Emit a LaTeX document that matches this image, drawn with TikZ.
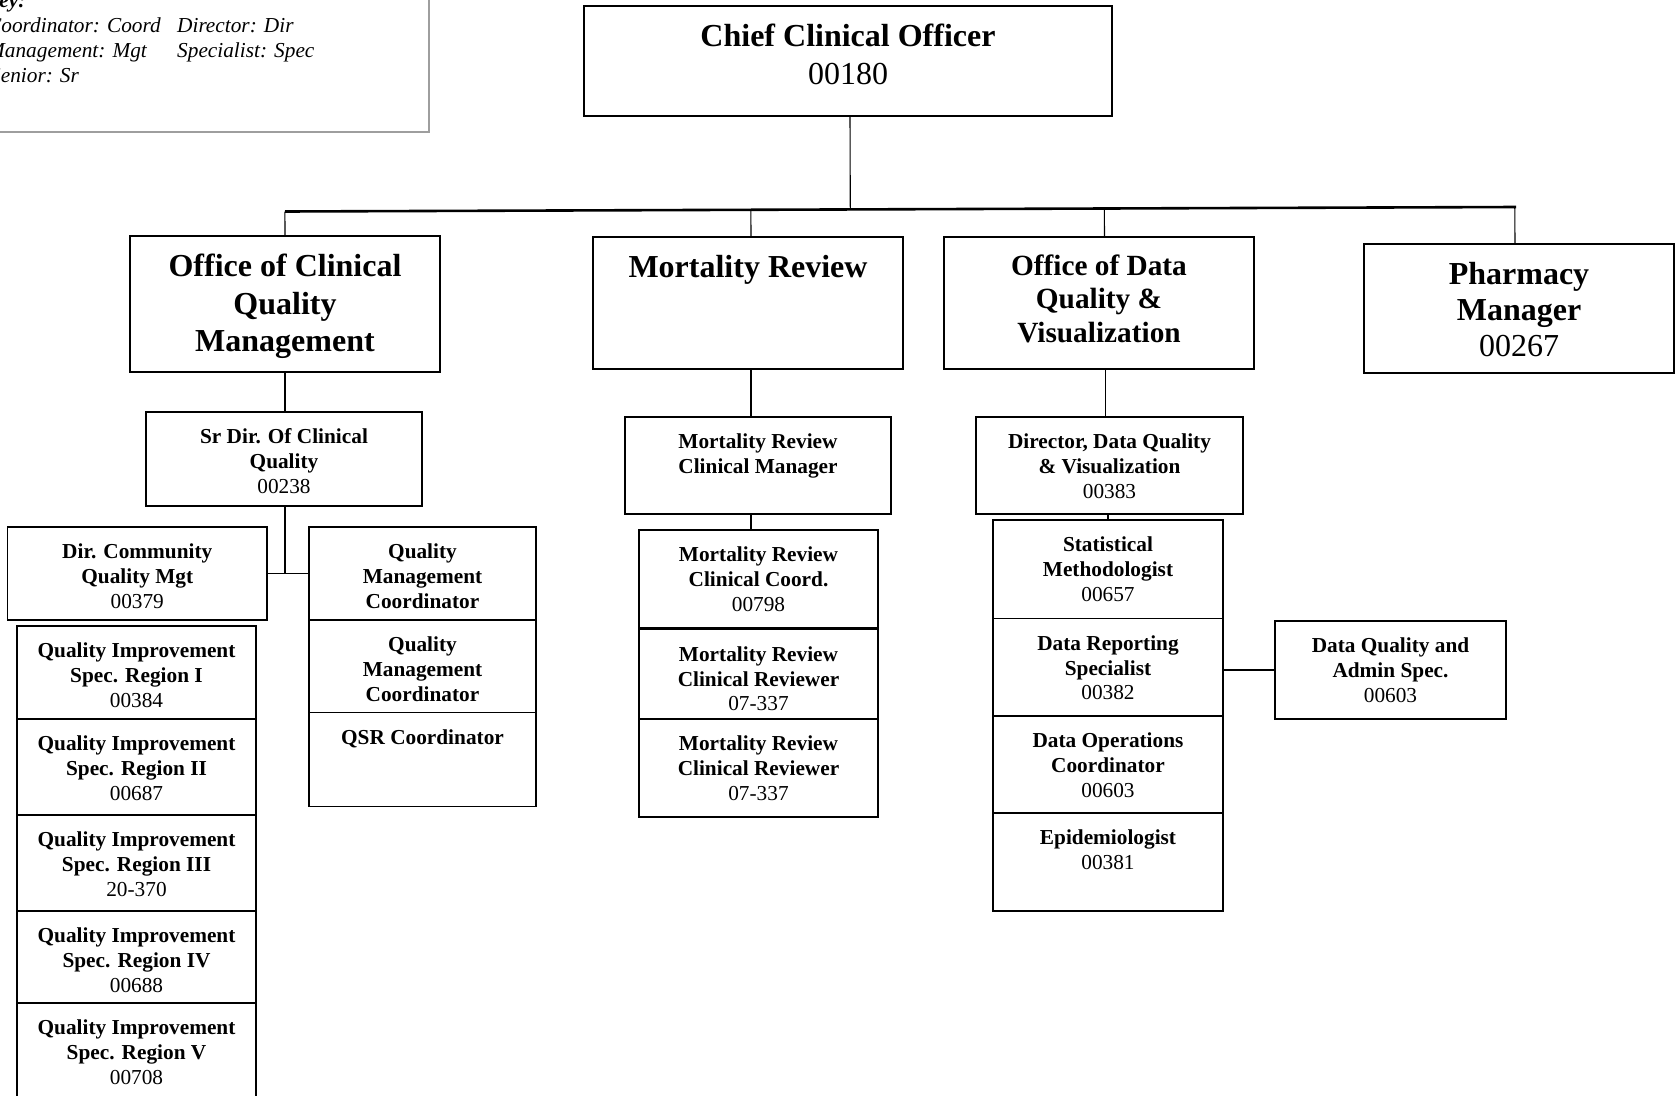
\documentclass[tikz,border=0pt]{standalone}
\usepackage{fontspec}
\setmainfont{Liberation Serif}
\usetikzlibrary{calc}
\newcommand\nm[1]{{\mdseries #1}}
\newcommand\obox[8][]{%
  \pgfmathsetmacro\oboxW{#5-#3}%
  \pgfmathsetmacro\oboxH{#6-#4}%
  \pgfmathsetmacro\oboxX{(#3+#5)/2}%
  \pgfmathsetmacro\oboxY{(#4+#6)/2}%
  \node[box,#1,minimum width=\oboxW pt,minimum height=\oboxH pt] (#2) at (\oboxX,\oboxY) {};
  \node[#7,anchor=north] (#2-t) at ([yshift=-14.5pt]#2.north) {\strut #8};
}
\tikzset{
  box/.style={draw, rectangle, line width=1.8pt, inner sep=0pt, outer sep=0pt},
  bigbox/.style={line width=2.1pt},
  sm/.style={inner sep=0pt, align=center, font=\fontsize{21.3}{24.6}\selectfont\bfseries},
  lg/.style={inner sep=0pt, align=center, font=\fontsize{32}{37.4}\selectfont\bfseries},
  ph/.style={inner sep=0pt, align=center, font=\fontsize{32}{36.3}\selectfont\bfseries},
  md/.style={inner sep=0pt, align=center, font=\fontsize{29.3}{33.6}\selectfont\bfseries},
  conn/.style={line width=1.1pt},
  mainline/.style={line width=2.6pt},
  keybox/.style={draw=black!38, line width=2.4pt, rectangle, inner sep=0pt, fill=white},
  keytxt/.style={inner sep=0pt, font=\fontsize{21.3}{24.6}\selectfont\itshape},
}
\begin{document}
\begin{tikzpicture}[x=1pt,y=-1pt]
\path[use as bounding box, clip] (0,0) rectangle (1675,1095);
\fill[white] (0,0) rectangle (1675,1095);

% key
\node[keybox, minimum width=449pt, minimum height=152pt] (key) at (204.5,56) {};
\node[keytxt, anchor=base west] (k0) at (-15,7.5) {\bfseries Key:};
\node[keytxt, anchor=base west] (k1) at (-13,32.2) {Coordinator: Coord};
\node[keytxt, anchor=base west] (k2) at (-13,57.8) {Management: Mgt};
\node[keytxt, anchor=base west] (k3) at (-10,82.4) {Senior: Sr};
\node[keytxt, anchor=base west] (k4) at (177,32.2) {Director: Dir};
\node[keytxt, anchor=base west] (k5) at (177,57.8) {Specialist: Spec};

% top
\obox[line width=2.5pt]{chief}{584}{6}{1112}{116}{lg}{Chief Clinical Officer\\\nm{00180}}

% level 1
\obox[bigbox]{ocqm}{130}{236}{440}{372}{lg}{Office of Clinical\\Quality\\Management}
\obox[bigbox]{mr}{593}{237}{903}{369}{lg}{Mortality Review}
\obox[bigbox]{odqv}{944}{237}{1254}{369}{md}{Office of Data\\Quality \&\\Visualization}
\obox[bigbox]{pharm}{1364}{244}{1674}{373}{ph}{Pharmacy\\Manager\\\nm{00267}}

% clinical quality column
\obox{srdir}{146}{412}{422}{506}{sm}{Sr Dir. Of Clinical\\Quality\\\nm{00238}}
\obox{dircomm}{7.5}{527}{267}{620}{sm}{Dir. Community\\Quality Mgt\\\nm{00379}}
\obox{qmc1}{309}{527}{536}{620}{sm}{Quality\\Management\\Coordinator}
\obox{qmc2}{309}{620}{536}{712.5}{sm}{Quality\\Management\\Coordinator}
\obox{qsr}{309}{712.5}{536}{806.5}{sm}{QSR Coordinator}
\obox{qi1}{17}{626}{256}{719}{sm}{Quality Improvement\\Spec. Region I\\\nm{00384}}
\obox{qi2}{17}{719}{256}{815}{sm}{Quality Improvement\\Spec. Region II\\\nm{00687}}
\obox{qi3}{17}{815}{256}{911}{sm}{Quality Improvement\\Spec. Region III\\\nm{20-370}}
\obox{qi4}{17}{911}{256}{1003}{sm}{Quality Improvement\\Spec. Region IV\\\nm{00688}}
\obox{qi5}{17}{1003}{256}{1098}{sm}{Quality Improvement\\Spec. Region V\\\nm{00708}}

% mortality column
\obox{mrcm}{625}{417}{891}{514}{sm}{Mortality Review\\Clinical Manager}
\obox{mr1}{639}{530}{878}{628}{sm}{Mortality Review\\Clinical Coord.\\\nm{00798}}
\obox{mr2}{639}{629.5}{878}{719}{sm}{Mortality Review\\Clinical Reviewer\\\nm{07-337}}
\obox{mr3}{639}{719}{878}{817}{sm}{Mortality Review\\Clinical Reviewer\\\nm{07-337}}

% data column
\obox{ddqv}{976}{417}{1243}{514}{sm}{Director, Data Quality\\\& Visualization\\\nm{00383}}
\obox{stat}{993}{520}{1223}{618.5}{sm}{Statistical\\Methodologist\\\nm{00657}}
\obox{drs}{993}{618.5}{1223}{716}{sm}{Data Reporting\\Specialist\\\nm{00382}}
\obox{doc}{993}{716}{1223}{813}{sm}{Data Operations\\Coordinator\\\nm{00603}}
\obox{epi}{993}{813}{1223}{911}{sm}{Epidemiologist\\\nm{00381}}
\obox{dqas}{1275}{621}{1506}{719}{sm}{Data Quality and\\Admin Spec.\\\nm{00603}}

% main horizontal line
\coordinate (hl) at (285,211.5);
\coordinate (hr) at (1516,207);
\draw[mainline] (hl) -- (hr);

\coordinate (cs) at ([xshift=2pt]chief.south);
\draw[conn] (cs) -- ($(hl)!(cs)!(hr)$);
\coordinate (d1) at (ocqm.north);
\coordinate (d2) at ([xshift=3pt]mr.north);
\coordinate (d3) at ([xshift=5.5pt]odqv.north);
\coordinate (d4) at ([xshift=-4pt]pharm.north);
\draw[conn] (d1) -- ($(hl)!(d1)!(hr)$);
\draw[conn] (d2) -- ($(hl)!(d2)!(hr)$);
\draw[conn] (d3) -- ($(hl)!(d3)!(hr)$);
\draw[conn] (d4) -- ($(hl)!(d4)!(hr)$);

% clinical quality connectors
\draw[conn] (ocqm.south) -- (ocqm.south |- srdir.north);
\draw[conn] (ocqm.south |- srdir.south) -- (ocqm.south |- dircomm.east);
\draw[conn] (dircomm.east) -- (qmc1.west);

% mortality connectors
\coordinate (ms) at ([xshift=3pt]mr.south);
\draw[conn] (ms) -- (ms |- mrcm.north);
\draw[conn] (ms |- mrcm.south) -- (ms |- mr1.north);

% data connectors
\coordinate (os) at ([xshift=6.4pt]odqv.south);
\draw[conn] (os) -- (os |- ddqv.north);
\draw[conn] (stat.north) -- (stat.north |- ddqv.south);
\draw[conn] (drs.east |- dqas.west) -- (dqas.west);
\end{tikzpicture}
\end{document}
